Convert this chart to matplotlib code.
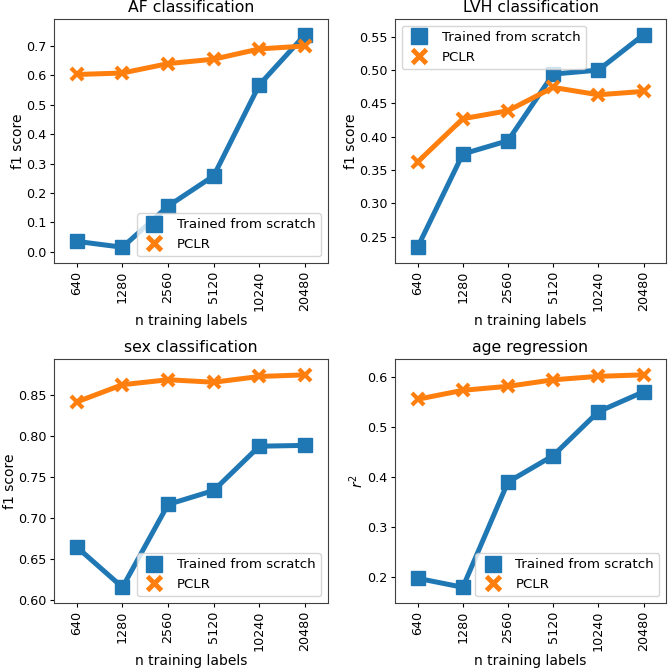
import matplotlib
matplotlib.use("Agg")
import matplotlib.pyplot as plt
from matplotlib.lines import Line2D

n_labels = ["640", "1280", "2560", "5120", "10240", "20480"]

af_scratch = [0.035, 0.015, 0.155, 0.258, 0.568, 0.738]
af_pclr = [0.603, 0.608, 0.640, 0.655, 0.690, 0.700]

lvh_scratch = [0.234, 0.374, 0.394, 0.494, 0.500, 0.553]
lvh_pclr = [0.362, 0.427, 0.439, 0.474, 0.463, 0.468]

sex_scratch = [0.664, 0.615, 0.716, 0.733, 0.787, 0.788]
sex_pclr = [0.841, 0.862, 0.868, 0.865, 0.872, 0.874]

age_scratch = [0.197, 0.179, 0.390, 0.443, 0.531, 0.571]
age_pclr = [0.556, 0.574, 0.582, 0.595, 0.602, 0.605]

panels = [
    ("AF classification", af_scratch, af_pclr, "f1 score", "lower right"),
    ("LVH classification", lvh_scratch, lvh_pclr, "f1 score", "upper left"),
    ("sex classification", sex_scratch, sex_pclr, "f1 score", "lower right"),
    ("age regression", age_scratch, age_pclr, "$r^2$", "lower right"),
]

blue = "#1f77b4"
orange = "#ff7f0e"

plt.rcParams["xtick.major.size"] = 2.8
plt.rcParams["ytick.major.size"] = 2.8
plt.rcParams["xtick.major.pad"] = 2.6
plt.rcParams["ytick.major.pad"] = 2.6
plt.rcParams["axes.titlepad"] = 5

fig = plt.figure(figsize=(6.71, 6.70), dpi=100)
rects = [
    [0.0805, 0.6075, 0.408, 0.364],
    [0.5887, 0.6075, 0.404, 0.364],
    [0.0805, 0.100, 0.408, 0.364],
    [0.5887, 0.100, 0.404, 0.364],
]
x = list(range(len(n_labels)))

# legend shows markers only
handles = [
    Line2D([], [], marker="s", color=blue, linestyle="none", markersize=11),
    Line2D([], [], marker="x", color=orange, linestyle="none", markersize=9.5, markeredgewidth=3.5),
]

for rect, (title, scratch, pclr, ylab, loc) in zip(rects, panels):
    ax = fig.add_axes(rect)
    ax.plot(x, scratch, marker="s", color=blue, linewidth=3.6, markersize=10.5)
    ax.plot(x, pclr, marker="x", color=orange, linewidth=3.6,
            markersize=9, markeredgewidth=3)
    ax.margins(x=0.1, y=0.074)
    ax.set_xticks(x)
    ax.set_xticklabels(n_labels, rotation=90, fontsize=9.2)
    ax.tick_params(axis="y", labelsize=9.2)
    for s in ax.spines.values():
        s.set_color("#404040")
    ax.set_title(title, fontsize=11.3)
    ax.set_xlabel("n training labels", fontsize=10, labelpad=2.5)
    ax.set_ylabel(ylab, fontsize=10, labelpad=1)
    ax.legend(handles, ["Trained from scratch", "PCLR"], loc=loc,
              fontsize=9.6, handlelength=1.8)

plt.savefig("out.png")
